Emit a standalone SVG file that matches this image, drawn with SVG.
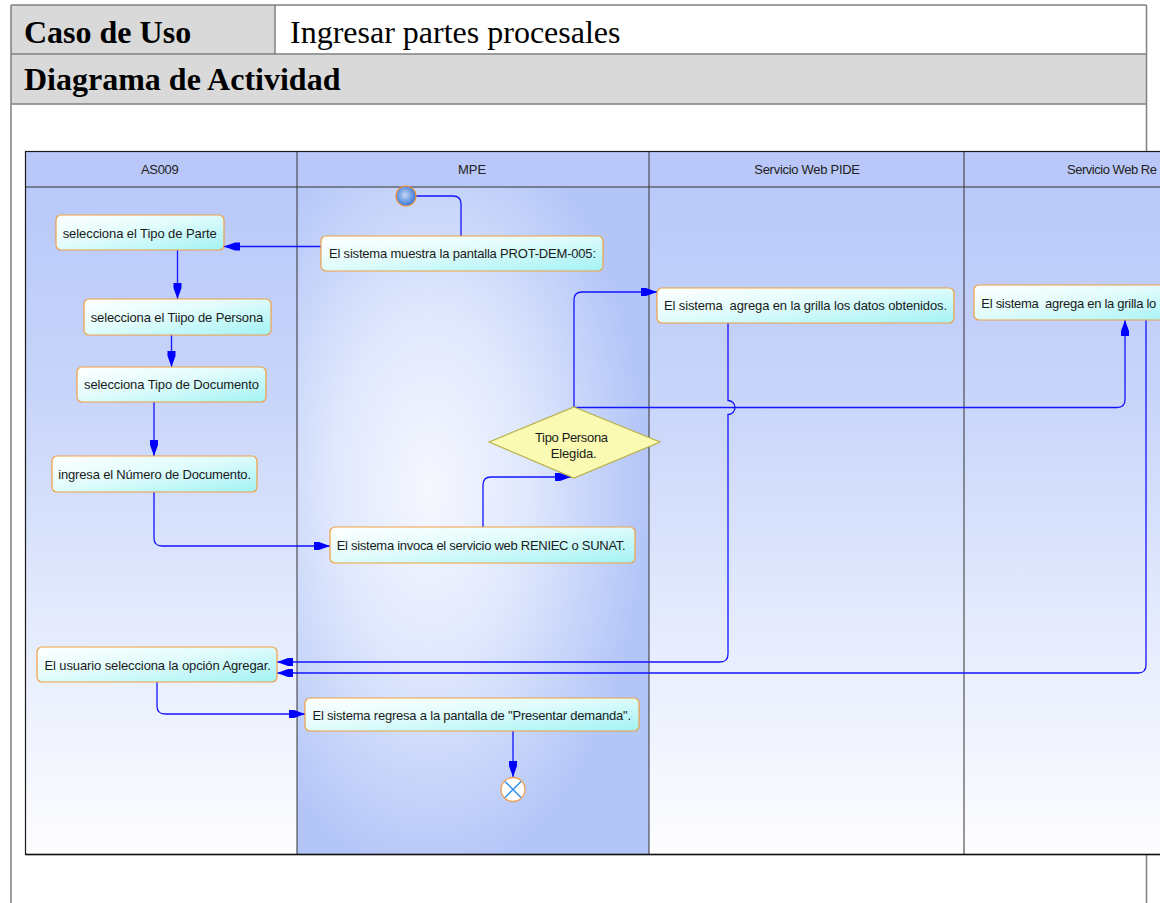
<svg xmlns="http://www.w3.org/2000/svg" width="1160" height="903" viewBox="0 0 1160 903">
  <style>
    .doc-line { stroke: #808080; stroke-width: 1.5; fill: none; }
    .doc-title { font-family: "Liberation Serif", "Times New Roman", serif; font-size: 32px; fill: #000; }
    .lane-line { stroke: #333; stroke-width: 1; fill: none; }
    .lane-label { font-family: "Liberation Sans", Arial, sans-serif; font-size: 13px; fill: #222; }
    .action { fill: url(#actionFill); stroke: #f0a040; stroke-width: 1.2; }
    .label { font-family: "Liberation Sans", Arial, sans-serif; font-size: 13px; fill: #1a1a1a; }
    .flow { fill: none; stroke: #1414ff; stroke-width: 1.3; }
    .flow-arrow { fill: none; stroke: #1414ff; stroke-width: 1.3; marker-end: url(#arrow); }
  </style>
  <defs>
    <linearGradient id="actionFill" x1="0" y1="0" x2="1" y2="1">
      <stop offset="0" stop-color="#ffffff"/>
      <stop offset="0.45" stop-color="#e2fcfc"/>
      <stop offset="1" stop-color="#a2f2f4"/>
    </linearGradient>
    <linearGradient id="laneFade" gradientUnits="userSpaceOnUse" x1="0" y1="187" x2="0" y2="854">
      <stop offset="0" stop-color="#b9c9f9"/>
      <stop offset="0.3" stop-color="#c7d4fa"/>
      <stop offset="0.65" stop-color="#e4ebfd"/>
      <stop offset="1" stop-color="#fdfdff"/>
    </linearGradient>
    <radialGradient id="mpeFill" gradientUnits="userSpaceOnUse" cx="0" cy="0" r="1" gradientTransform="translate(430 490) scale(215 390)">
      <stop offset="0" stop-color="#f6f8ff"/>
      <stop offset="0.45" stop-color="#e0e8fd"/>
      <stop offset="0.8" stop-color="#c4d2fa"/>
      <stop offset="1" stop-color="#b4c6f8"/>
    </radialGradient>
    <radialGradient id="startFill" cx="0.45" cy="0.45" r="0.6">
      <stop offset="0" stop-color="#c4d6f2"/>
      <stop offset="1" stop-color="#2b6ed8"/>
    </radialGradient>
    <marker id="arrow" markerUnits="userSpaceOnUse" markerWidth="18" markerHeight="10" refX="16" refY="5" orient="auto">
      <path d="M0,1 L5,1 L16,5 L5,9 L0,9 Z" fill="#0000ff"/>
    </marker>
  </defs>

  <rect width="1160" height="903" fill="#ffffff"/>

  <!-- document table framing the diagram -->
  <g id="doc-table">
    <rect x="11" y="5" width="264" height="49" fill="#d9d9d9"/>
    <rect x="11" y="54" width="1135.5" height="50" fill="#d9d9d9"/>
    <path class="doc-line" d="M11,5 H1146.5 M11,5 V903 M1146.5,5 V903 M11,54 H1146.5 M11,104 H1146.5 M275,5 V54"/>
    <text class="doc-title" x="24" y="43" font-weight="bold">Caso de Uso</text>
    <text class="doc-title" x="290" y="43">Ingresar partes procesales</text>
    <text class="doc-title" x="24" y="90" font-weight="bold">Diagrama de Actividad</text>
  </g>

  <!-- swimlanes -->
  <g id="lanes">
    <rect x="25.5" y="151.5" width="1140" height="703" fill="url(#laneFade)"/>
    <rect x="297" y="187" width="352" height="667.5" fill="url(#mpeFill)"/>
    <rect x="25.5" y="151.5" width="1140" height="35.5" fill="#b9c8f8"/>
    <path class="lane-line" d="M25.5,187 H1160 M297,151.5 V854.5 M649,151.5 V854.5 M964,151.5 V854.5"/>
    <rect x="25.5" y="151.5" width="1140" height="703" fill="none" stroke="#1a1a1a" stroke-width="1.2"/>
    <line x1="25.5" y1="854.5" x2="1160" y2="854.5" stroke="#111" stroke-width="1.6"/>
    <text class="lane-label" x="141" y="174" textLength="37.7">AS009</text>
    <text class="lane-label" x="472" y="174" text-anchor="middle">MPE</text>
    <text class="lane-label" x="754.3" y="174" textLength="105.7">Servicio Web PIDE</text>
    <text class="lane-label" x="1067" y="174" textLength="90">Servicio Web Re</text>
  </g>

  <!-- control flows -->
  <g id="connectors">
    <path class="flow" d="M416,196 H453 Q461,196 461,204 V236"/>
    <path class="flow-arrow" d="M321,246.5 H224"/>
    <path class="flow-arrow" d="M177.5,250 V299"/>
    <path class="flow-arrow" d="M171.5,335 V367"/>
    <path class="flow-arrow" d="M154,402 V456"/>
    <path class="flow-arrow" d="M154,492 V538 Q154,546 162,546 H330"/>
    <path class="flow-arrow" d="M483,527 V485 Q483,477 491,477 H571"/>
    <path class="flow-arrow" d="M574,407 V300 Q574,292 582,292 H657"/>
    <path class="flow-arrow" d="M574,407.5 H1117 Q1125,407.5 1125,399.5 V320"/>
    <path class="flow-arrow" d="M728,323 V400.5 A7,7 0 0 1 728,414.5 V654 Q728,662 720,662 H277"/>
    <path class="flow-arrow" d="M1146,320 V665 Q1146,673 1138,673 H277"/>
    <path class="flow-arrow" d="M157,682 V706 Q157,714 165,714 H305"/>
    <path class="flow-arrow" d="M513,731 V777"/>
  </g>

  <!-- nodes -->
  <g id="start">
    <circle cx="406" cy="196" r="10" fill="url(#startFill)" stroke="#f09030" stroke-width="1.2"/>
  </g>
  <g id="muestra-pantalla">
    <rect class="action" x="321" y="236" width="282" height="35" rx="5"/>
    <text class="label" x="329" y="258" textLength="267">El sistema muestra la pantalla PROT-DEM-005:</text>
  </g>
  <g id="tipo-parte">
    <rect class="action" x="56" y="215" width="168" height="35" rx="5"/>
    <text class="label" x="62.7" y="238" textLength="154">selecciona el Tipo de Parte</text>
  </g>
  <g id="tipo-persona">
    <rect class="action" x="84" y="299" width="187" height="36" rx="5"/>
    <text class="label" x="90.7" y="322" textLength="172.6">selecciona el Tiipo de Persona</text>
  </g>
  <g id="tipo-documento">
    <rect class="action" x="77" y="367" width="189" height="35" rx="5"/>
    <text class="label" x="84" y="389" textLength="175">selecciona Tipo de Documento</text>
  </g>
  <g id="numero-documento">
    <rect class="action" x="52" y="456" width="205" height="36" rx="5"/>
    <text class="label" x="58.3" y="479" textLength="192.7">ingresa el Número de Documento.</text>
  </g>
  <g id="invoca-servicio">
    <rect class="action" x="330" y="527" width="305" height="36" rx="5"/>
    <text class="label" x="336.7" y="550" textLength="289">El sistema invoca el servicio web RENIEC o SUNAT.</text>
  </g>
  <g id="tipo-persona-elegida">
    <polygon points="574,407 660,442 574,478 489,442" fill="#fafab2" stroke="#b8b048" stroke-width="1.2"/>
    <text class="label" x="535" y="442" textLength="73">Tipo Persona</text>
    <text class="label" x="550.7" y="457.5" textLength="46">Elegida.</text>
  </g>
  <g id="agrega-grilla-pide">
    <rect class="action" x="657" y="288" width="297" height="35" rx="5"/>
    <text class="label" x="664" y="310" textLength="283" xml:space="preserve">El sistema  agrega en la grilla los datos obtenidos.</text>
  </g>
  <g id="agrega-grilla-reniec">
    <rect class="action" x="974" y="285" width="220" height="35" rx="5"/>
    <text class="label" x="981.3" y="307.5" xml:space="preserve" textLength="175">El sistema  agrega en la grilla lo</text>
  </g>
  <g id="opcion-agregar">
    <rect class="action" x="37" y="647" width="240" height="35" rx="5"/>
    <text class="label" x="44.4" y="669.5" textLength="226.4">El usuario selecciona la opción Agregar.</text>
  </g>
  <g id="regresa-pantalla">
    <rect class="action" x="305" y="698" width="334" height="33" rx="5"/>
    <text class="label" x="312.5" y="719.5" textLength="318.6">El sistema regresa a la pantalla de "Presentar demanda".</text>
  </g>
  <g id="fin">
    <circle cx="513" cy="789.5" r="12" fill="#ffffff" stroke="#f0a050" stroke-width="1.3"/>
    <path d="M505,781.5 L521,797.5 M521,781.5 L505,797.5" stroke="#3090e8" stroke-width="1.5"/>
  </g>
</svg>
